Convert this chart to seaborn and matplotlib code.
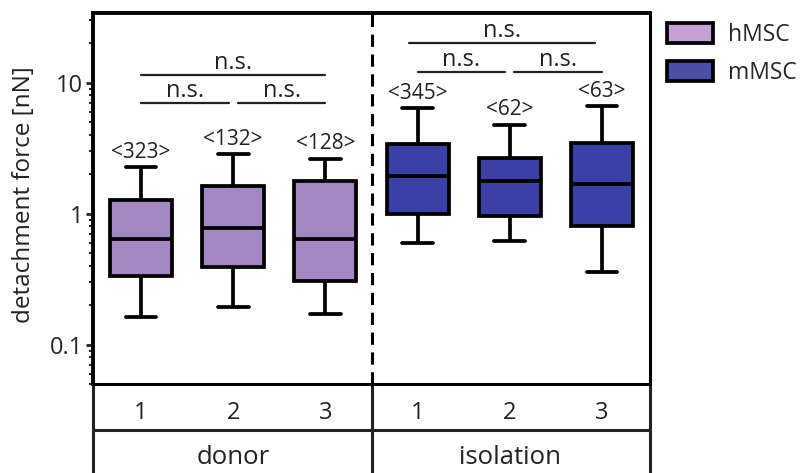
import numpy as np
import pandas as pd
import seaborn as sns
import matplotlib.pyplot as plt
from matplotlib.patches import Patch
from matplotlib.ticker import LogLocator, NullFormatter

# Werte (Fünf-Punkte-Zusammenfassung je Box)
groups = ["donor", "isolation"]
samples = ["1", "2", "3", "1", "2", "3"]
cell_types = ["hMSC", "hMSC", "hMSC", "mMSC", "mMSC", "mMSC"]
whisker_low = [0.162, 0.194, 0.172, 0.60, 0.62, 0.359]
q1 = [0.332, 0.392, 0.306, 1.00, 0.96, 0.80]
median = [0.644, 0.78, 0.644, 1.93, 1.78, 1.69]
q3 = [1.26, 1.63, 1.78, 3.42, 2.66, 3.48]
whisker_high = [2.28, 2.84, 2.63, 6.41, 4.78, 6.64]
n_cells = [323, 132, 128, 345, 62, 63]
comparisons = [(0, 2), (0, 1), (1, 2), (3, 5), (3, 4), (4, 5)]
comp_labels = ["n.s."] * 6

box_colors = {"hMSC": "#A387C3", "mMSC": "#3A40A6"}
legend_colors = {"hMSC": "#C6A2D4", "mMSC": "#4A50AA"}

# Long-Format: pro Box die fünf Kennwerte -> Quartile werden exakt getroffen
keys = [f"{g} {s}" for g in groups for s in ["1", "2", "3"]]
rows = []
for i, k in enumerate(keys):
    for v in (whisker_low[i], q1[i], median[i], q3[i], whisker_high[i]):
        rows.append({"key": k, "cell": cell_types[i], "force": v})
df = pd.DataFrame(rows)

sns.set_style("ticks")
plt.rcParams["font.family"] = ["Open Sans", "DejaVu Sans"]

fig = plt.figure(figsize=(8.07, 4.73), dpi=100)
ax = fig.add_axes([93 / 807, 1 - 384 / 473, 557 / 807, 371 / 473])
ax.set_yscale("log")

lw = 2.7
sns.boxplot(data=df, x="key", y="force", hue="cell", order=keys,
            palette=box_colors, dodge=False, saturation=1, width=0.67,
            whis=(0, 100), linecolor="black", linewidth=lw,
            legend=False, ax=ax)

ax.set_xlim(-0.52, 5.52)
ax.set_ylim(0.05, 34)
ax.set_yticks([0.1, 1, 10], labels=["0.1", "1", "10"])
ax.yaxis.set_minor_locator(LogLocator(base=10, subs=np.arange(2, 10)))
ax.yaxis.set_minor_formatter(NullFormatter())
ax.tick_params(axis="y", which="major", length=5, width=2, pad=2, labelsize=17)
ax.tick_params(axis="y", which="minor", length=3, width=1.5)
ax.set_ylabel("detachment force [nN]", fontsize=17.5, color="#222222")
ax.yaxis.set_label_coords(-0.102, 0.51)

ax.set_xticks(range(6), labels=samples)
ax.tick_params(axis="x", length=0, pad=12, labelsize=17, labelcolor="#222222")
ax.set_xlabel("")

for side in ["left", "top"]:
    ax.spines[side].set_linewidth(2.8)
for side in ["right", "bottom"]:
    ax.spines[side].set_linewidth(2.2)
for s in ax.spines.values():
    s.set_color("black")

# Trennlinie und Tabelle unter der Achse
trans = ax.get_xaxis_transform()
ax.plot([2.5, 2.5], [0, 1], transform=trans, color="black", lw=2.2,
        ls=(0, (4, 2.5)), clip_on=False)
ax.plot([2.5, 2.5], [0, -0.26], transform=trans, color="#222222", lw=2.2, clip_on=False)
for xv in [-0.52, 5.52]:
    ax.plot([xv, xv], [0, -0.26], transform=trans, color="#222222", lw=2.2, clip_on=False)
ax.plot([-0.52, 5.52], [-0.124, -0.124], transform=trans, color="#222222", lw=2.2,
        clip_on=False)
for g, xc in zip(groups, [1, 4]):
    ax.text(xc, -0.197, g, transform=trans, ha="center", va="center",
            fontsize=18.5, color="#222222")

# Anzahl der Zellen über den Whiskern
for i in range(6):
    ax.annotate(f"<{n_cells[i]}>", (i, whisker_high[i]), xytext=(0, 3),
                textcoords="offset points", ha="center", va="bottom",
                fontsize=15, color="#222222")

# Signifikanz-Balken
levels = {(0, 2): 11.5, (0, 1): 7.0, (1, 2): 7.0,
          (3, 5): 19.9, (3, 4): 12.1, (4, 5): 12.1}
for (a, b), lab in zip(comparisons, comp_labels):
    gap = 0.05 if b - a == 1 else 0.0
    x0 = a + (gap if a in (1, 4) else 0)
    x1 = b - (gap if b in (1, 4) else 0)
    if (a, b) == (3, 5):
        x0, x1 = a - 0.09, b - 0.08
    y = levels[(a, b)]
    ax.plot([x0, x1], [y, y], color="#222222", lw=1.6)
    ax.text((x0 + x1) / 2, y, lab, ha="center", va="bottom", fontsize=17,
            color="#222222")

handles = [Patch(facecolor=legend_colors[c], edgecolor="black", linewidth=2.7, label=c)
           for c in ["hMSC", "mMSC"]]
fig.legend(handles=handles, loc="upper left", bbox_to_anchor=(667 / 807, 1 - 23 / 473),
           frameon=False, fontsize=16.5, handlelength=2.0, handleheight=0.95,
           handletextpad=0.65, labelspacing=0.62, borderpad=0, borderaxespad=0)

fig.savefig("out.png", dpi=100)
